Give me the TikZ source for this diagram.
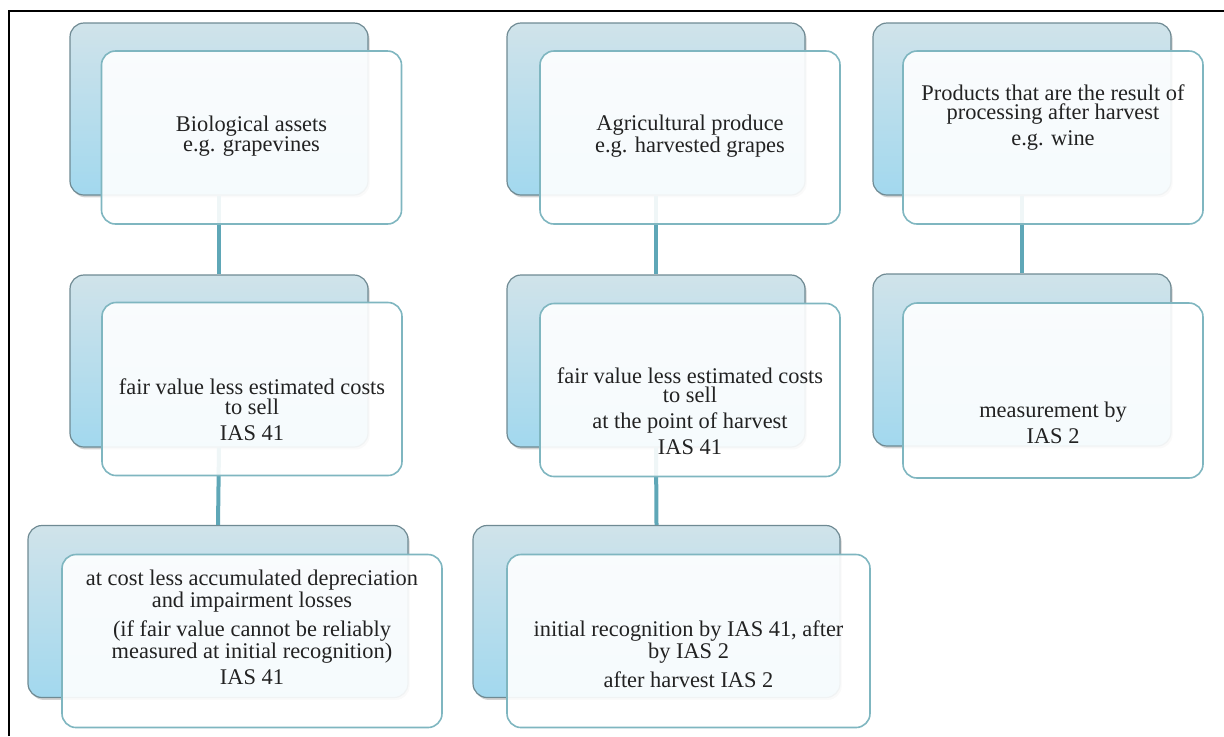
\documentclass[tikz,border=0pt]{standalone}
\usepackage{fontspec}
\setmainfont{Liberation Serif}
\usetikzlibrary{shadows}

\definecolor{backtop}{HTML}{D0E3EA}
\definecolor{backbot}{HTML}{A2D8EE}
\definecolor{backline}{HTML}{6F8A93}
\definecolor{frontline}{HTML}{7FB6C0}
\definecolor{linkcol}{HTML}{5FA7B7}
\definecolor{txtcol}{HTML}{222222}

\tikzset{
  backbox/.style={rounded corners=7pt, draw=backline, line width=0.6pt,
    top color=backtop, bottom color=backbot,
    drop shadow={shadow xshift=0.8pt, shadow yshift=-1.2pt, opacity=0.35},
    minimum width=149pt, minimum height=86pt, inner sep=0pt},
  frontbox/.style={rounded corners=7pt, draw=frontline, line width=0.8pt,
    fill=white, fill opacity=0.9,
    minimum width=150pt, minimum height=86.5pt, inner sep=0pt},
  boxtext/.style={align=center, text=txtcol, font=\fontsize{11.2}{9.9}\selectfont},
  link/.style={draw=linkcol, line width=2pt}
}
\newcommand{\gap}{\\[3pt]}

\begin{document}
\begin{tikzpicture}[x=0.5pt, y=-0.5pt]
  \useasboundingbox (0,0) rectangle (1224,736);
  \draw[line width=1pt] (9,736) -- (9,11) -- (1224,11);

  % back boxes
  \node[backbox] (b1) at (219,109) {};
  \node[backbox] (b2) at (219,361) {};
  \node[backbox, minimum width=190pt] (b3) at (218,611.5) {};
  \node[backbox] (b4) at (656,109) {};
  \node[backbox] (b5) at (656,361) {};
  \node[backbox, minimum width=183.5pt] (b6) at (656.5,611.5) {};
  \node[backbox] (b7) at (1022,109) {};
  \node[backbox] (b8) at (1022,360) {};

  % links
  \draw[link] (b1.south) -- (b2.north);
  \draw[link] (b2.south) -- (b3.north);
  \draw[link] (b4.south) -- (b5.north);
  \draw[link] (b5.south) -- (b6.north);
  \draw[link] (b7.south) -- (b8.north);

  % front boxes
  \node[frontbox] (f1) at (251.5,137.5) {};
  \node[frontbox] (f2) at (252,389) {};
  \node[frontbox, minimum width=190pt] (f3) at (252,641) {};
  \node[frontbox] (f4) at (690,137.5) {};
  \node[frontbox] (f5) at (690,390) {};
  \node[frontbox, minimum width=181.5pt] (f6) at (688.5,641) {};
  \node[frontbox] (f7) at (1053,137.5) {};
  \node[frontbox, minimum height=87.5pt] (f8) at (1053,390.5) {};

  % texts
  \node[boxtext] (t1) at (251.5,136) {Biological assets\\e.g. grapevines};
  \node[boxtext] (t2) at (252,410) {fair value less estimated costs\\to sell\gap IAS 41};
  \node[boxtext] (t3) at (252,627) {at cost less accumulated depreciation\\and impairment losses\gap
    (if fair value cannot be reliably\\measured at initial recognition)\gap IAS 41};
  \node[boxtext] (t4) at (690,136) {Agricultural produce\\e.g. harvested grapes};
  \node[boxtext] (t5) at (690,411) {fair value less estimated costs\\to sell\gap
    at the point of harvest\gap IAS 41};
  \node[boxtext] (t6) at (688.5,654) {initial recognition by IAS 41, after\\by IAS 2\gap after harvest IAS 2};
  \node[boxtext] (t7) at (1053,117.5) {Products that are the result of\\processing after harvest\gap e.g. wine};
  \node[boxtext] (t8) at (1053,423) {measurement by\gap IAS 2};
\end{tikzpicture}
\end{document}
